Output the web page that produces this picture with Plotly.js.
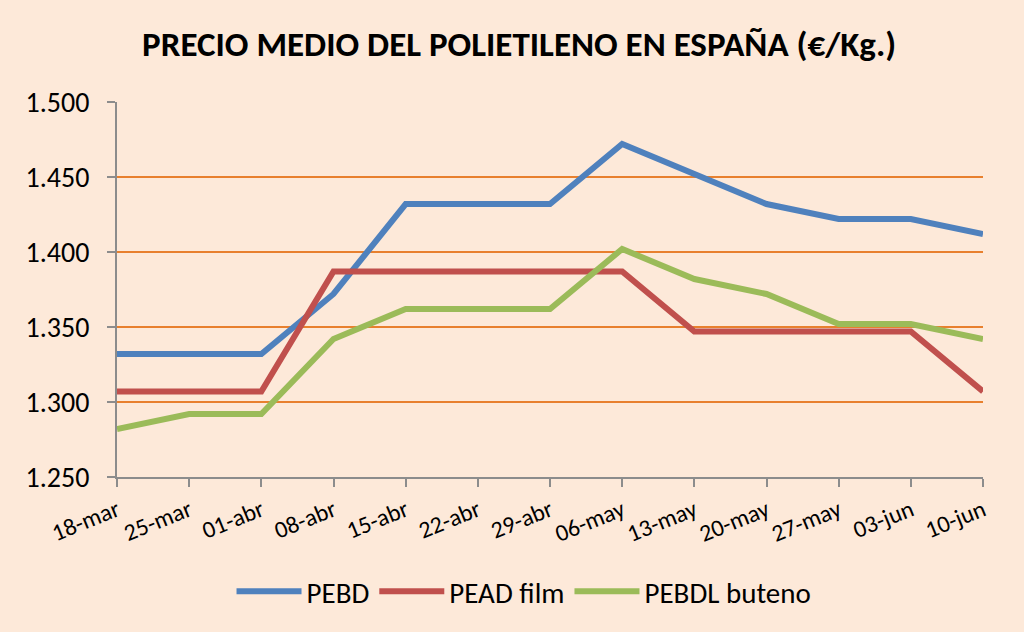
<!DOCTYPE html>
<html>
<head>
<meta charset="utf-8">
<script src="https://cdn.plot.ly/plotly-3.0.1.min.js"></script>
<style>
    html, body { margin: 0; padding: 0; background: #fde9d9; }
    #chart { width: 1024px; height: 632px; }
</style>
</head>
<body>
<div id="chart"></div>
<script>
    // semanas (eje X)
    const weeks = ['18-mar', '25-mar', '01-abr', '08-abr', '15-abr', '22-abr', '29-abr',
                   '06-may', '13-may', '20-may', '27-may', '03-jun', '10-jun'];

    // precios medios en €/Kg
    const pebd = [1.332, 1.332, 1.332, 1.372, 1.432, 1.432, 1.432, 1.472, 1.452, 1.432, 1.422, 1.422, 1.412];
    const peadFilm = [1.307, 1.307, 1.307, 1.387, 1.387, 1.387, 1.387, 1.387, 1.347, 1.347, 1.347, 1.347, 1.307];
    const pebdlButeno = [1.282, 1.292, 1.292, 1.342, 1.362, 1.362, 1.362, 1.402, 1.382, 1.372, 1.352, 1.352, 1.342];

    const yTicks = [1.25, 1.30, 1.35, 1.40, 1.45, 1.50];

    const colors = {
        blue: '#4f81bd',
        red: '#c0504d',
        green: '#9bbb59',
        grid: '#e8802e',
        axis: '#8c8c8c',
        bg: '#fde9d9'
    };

    const font = 'Calibri, Carlito, Lato, "Open Sans", sans-serif';

    function line(name, values, color) {
        return {
            x: weeks,
            y: values,
            name: name,
            type: 'scatter',
            mode: 'lines',
            line: { color: color, width: 6 }
        };
    }

    const traces = [
        line('PEBD', pebd, colors.blue),
        line('PEAD film', peadFilm, colors.red),
        line('PEBDL buteno', pebdlButeno, colors.green)
    ];

    const layout = {
        width: 1024,
        height: 632,
        paper_bgcolor: colors.bg,
        plot_bgcolor: colors.bg,
        margin: { l: 117, r: 41, t: 102, b: 155 },
        font: { family: font, color: '#000' },
        title: {
            text: '<b>PRECIO MEDIO DEL POLIETILENO EN ESPAÑA (€/Kg.)</b>',
            font: { size: 35, family: font },
            x: 0.507,
            xanchor: 'center',
            y: 0.93,
            yanchor: 'middle'
        },
        showlegend: true,
        legend: {
            orientation: 'h',
            x: 0.47,
            xanchor: 'center',
            y: -0.305,
            yanchor: 'middle',
            font: { size: 29, family: font },
            itemwidth: 65,
            bgcolor: 'rgba(0,0,0,0)'
        },
        xaxis: {
            type: 'category',
            range: [0, 12],
            showgrid: false,
            showline: true,
            linecolor: colors.axis,
            linewidth: 2,
            ticks: 'outside',
            ticklen: 8,
            tickwidth: 2,
            tickcolor: colors.axis,
            tickangle: -22,
            tickfont: { size: 24, family: font }
        },
        yaxis: {
            range: [1.25, 1.5],
            tickvals: yTicks,
            tickformat: '.3f',
            showgrid: true,
            gridcolor: colors.grid,
            gridwidth: 2,
            zeroline: false,
            showline: true,
            linecolor: colors.axis,
            linewidth: 2,
            ticks: 'outside',
            ticklen: 8,
            tickwidth: 2,
            tickcolor: colors.axis,
            ticklabelstandoff: 12,
            tickfont: { size: 28, family: font }
        }
    };

    Plotly.newPlot('chart', traces, layout, { displayModeBar: false, responsive: false });
</script>
</body>
</html>
